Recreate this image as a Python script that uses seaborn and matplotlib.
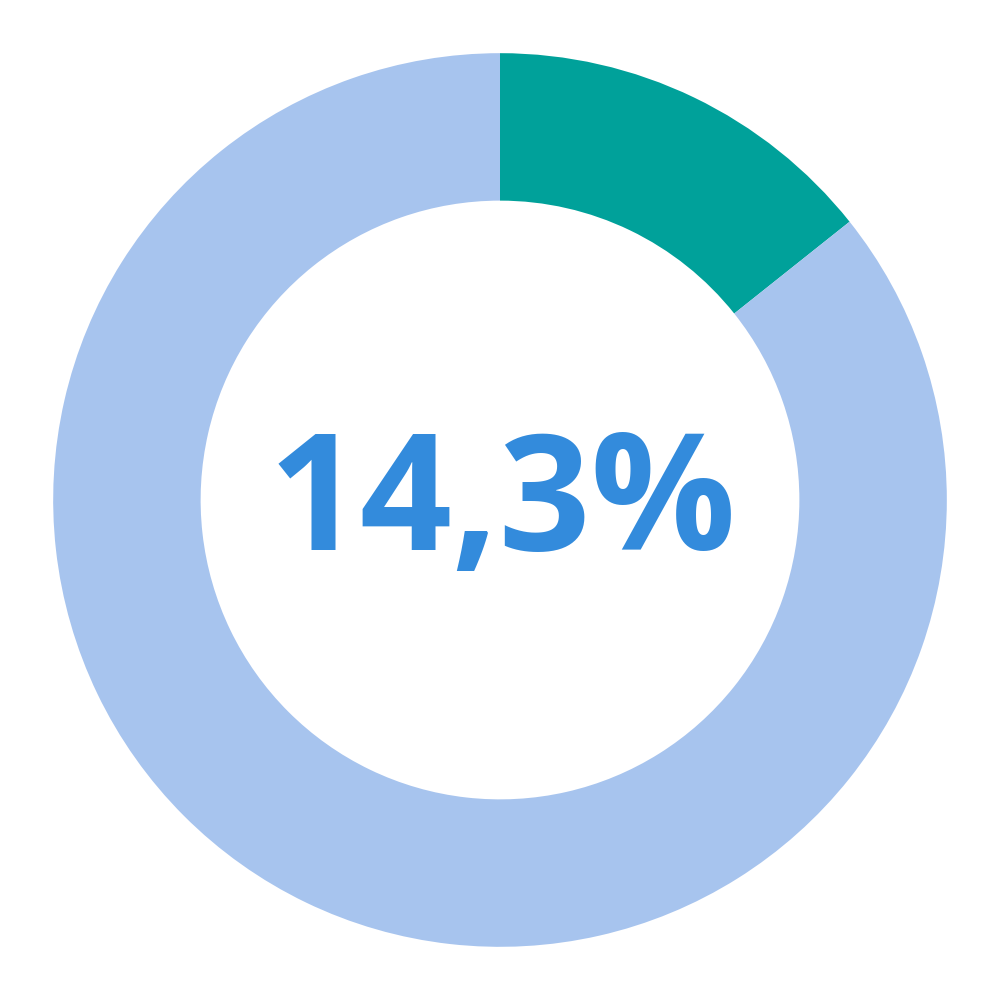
import matplotlib
matplotlib.use("Agg")
import matplotlib.pyplot as plt
import seaborn as sns

# -----------------------------
# Data
# -----------------------------
labels = ["Share", "Rest"]
values = [14.3, 85.7]
colors = ["#00A19A", "#A7C4EE"]
center_label = "14,3%"

sns.set_theme(style="white")
plt.rcParams['font.family'] = ['Open Sans', 'DejaVu Sans']

fig, ax = plt.subplots(figsize=(10, 10), dpi=100)
fig.subplots_adjust(left=0, right=1, bottom=0, top=1)

ax.pie(
    values,
    colors=colors,
    startangle=90,
    counterclock=False,
    radius=1.0,
    wedgeprops=dict(width=0.33, linewidth=0),
)
ax.set_xlim(-1.119, 1.119)
ax.set_ylim(-1.119, 1.119)
ax.set_aspect("equal")
ax.axis("off")

ax.text(0.005, -0.018, center_label, ha="center", va="center",
        fontsize=116, fontweight="bold", color="#338BDC")

plt.savefig("out.png", dpi=100, facecolor="white")
plt.close()
